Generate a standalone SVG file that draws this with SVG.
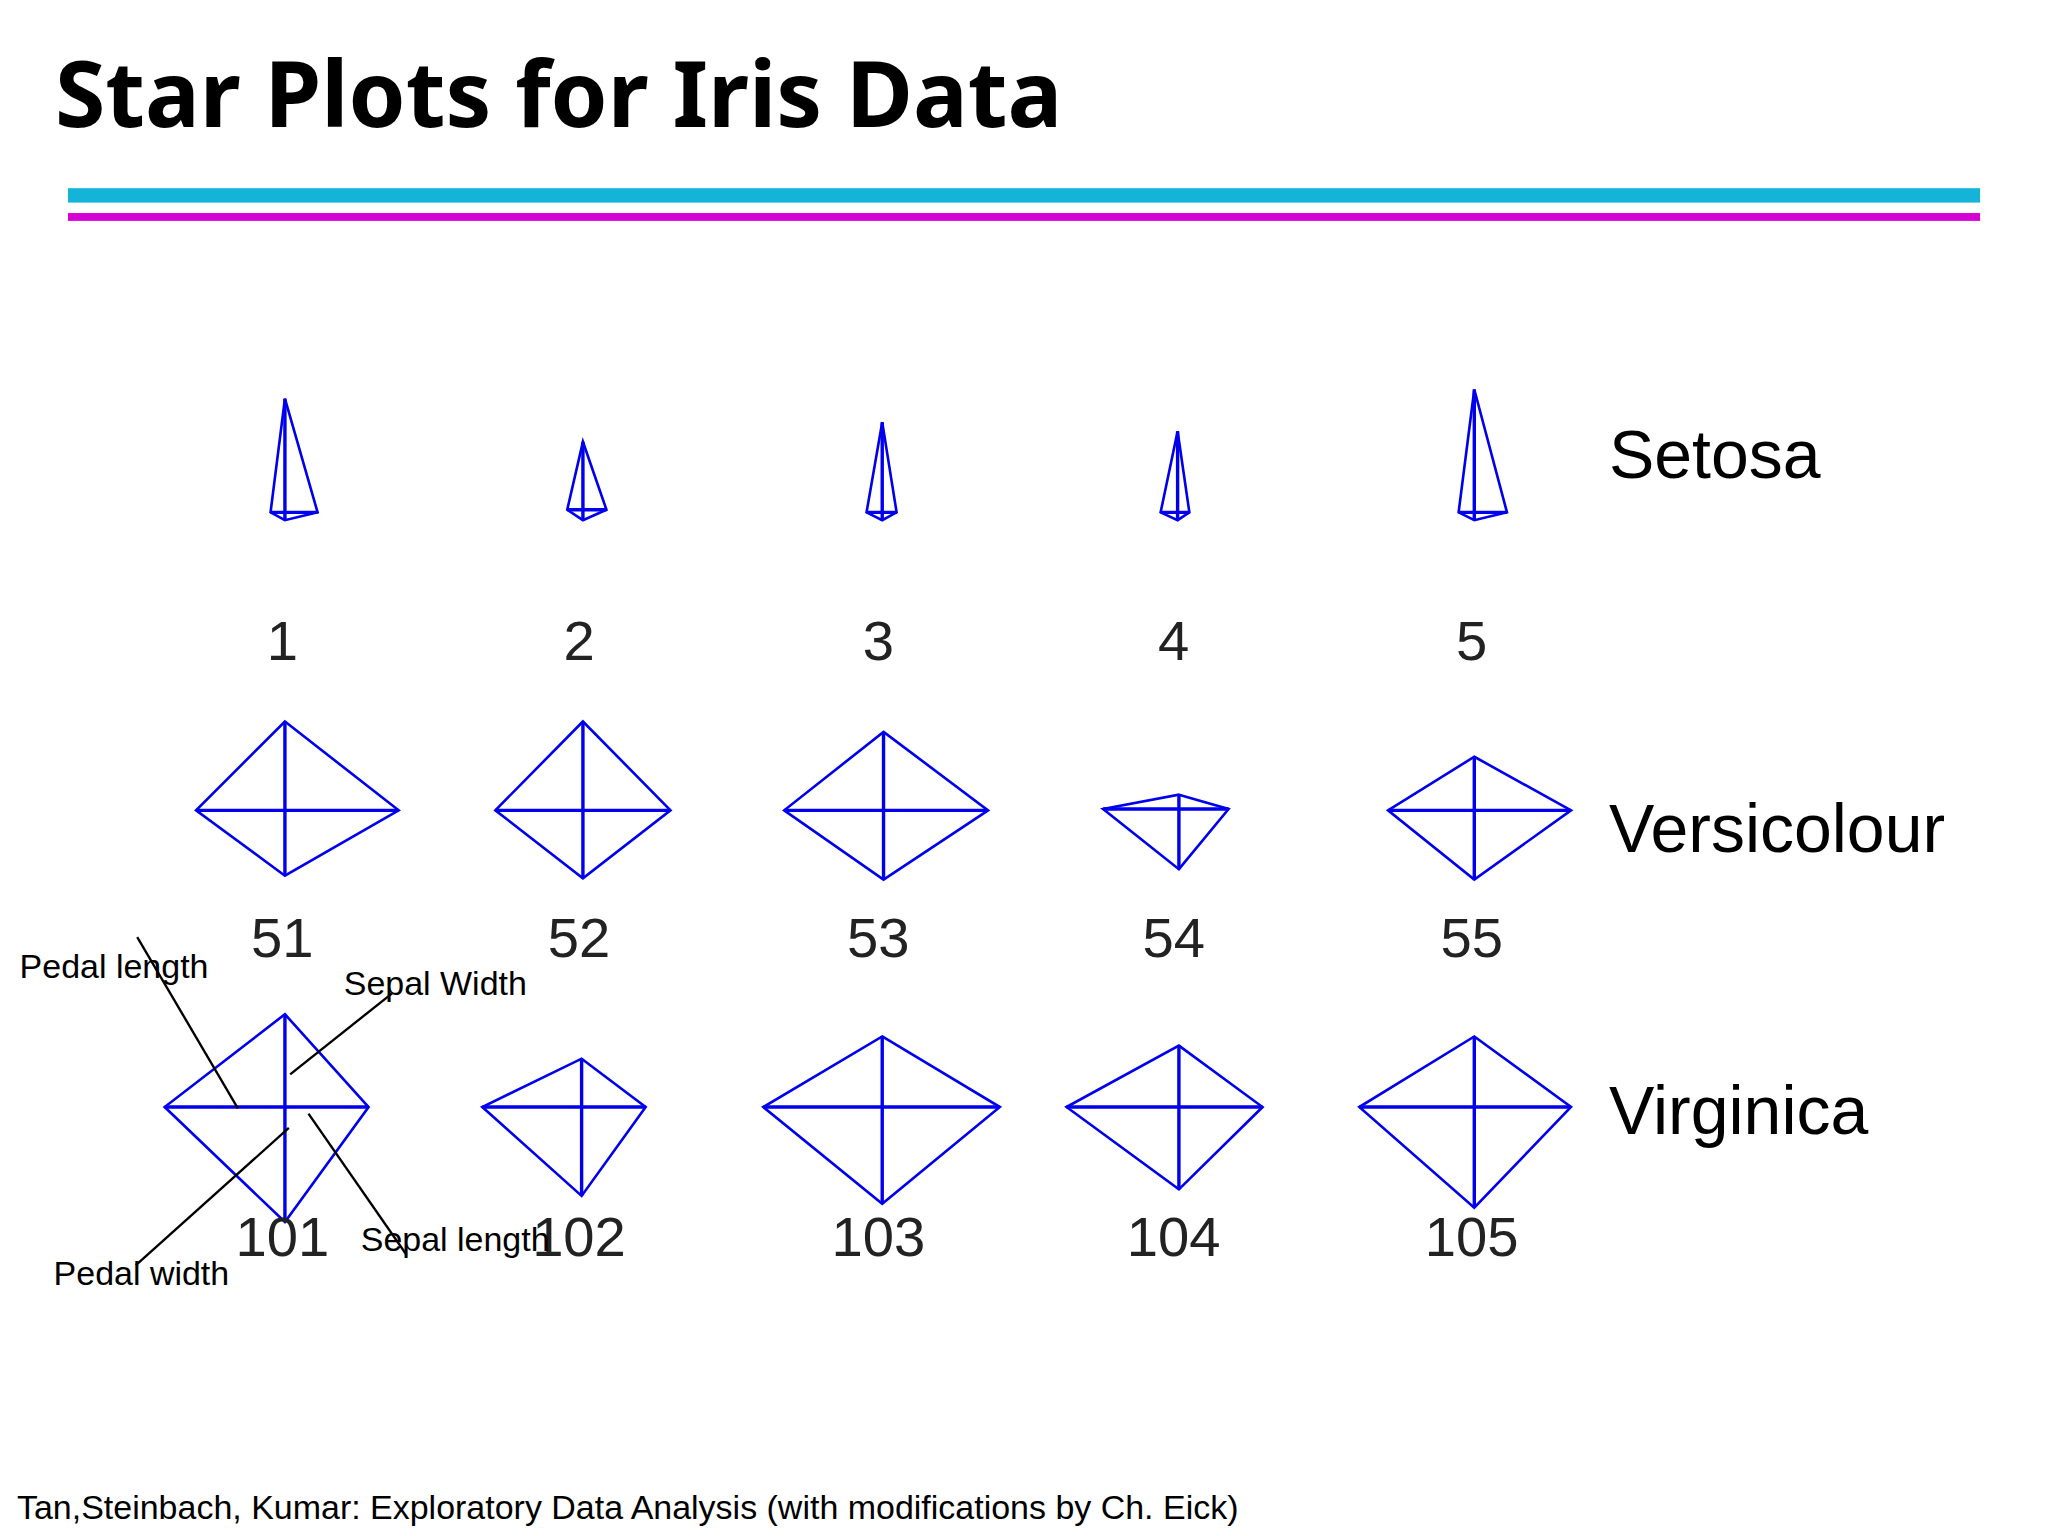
<svg xmlns="http://www.w3.org/2000/svg" width="2048" height="1536" viewBox="0 0 2048 1536">
<style>
.star{fill:none;stroke:#0000ee;stroke-width:2}
.ax{stroke:#0000ee;stroke-width:2.6}
.num{font-family:"Liberation Sans",Arial,sans-serif;font-size:43px;fill:#222;text-anchor:middle}
.cls{font-family:"Liberation Sans",Arial,sans-serif;font-size:52px;fill:#000}
.ann{font-family:"Liberation Sans",Arial,sans-serif;font-size:26px;fill:#000}
.lead{stroke:#000;stroke-width:1.8}
</style>
<rect width="2048" height="1536" fill="#fff"/>
<g transform="scale(1.307)">
<text x="42" y="97" font-family="Noto Sans,Open Sans,sans-serif" font-weight="bold" font-size="70" fill="#000">Star Plots for Iris Data</text>
<rect x="52" y="144" width="1463" height="11" fill="#14b4d8"/>
<rect x="52" y="163" width="1463" height="6" fill="#d400d4"/>
<g id="stars">
<g id="s1"><path class="star" d="M218,305 L243,392 L218,398 L207,392 Z"/><path class="ax" d="M218,305V398M207,392H243"/></g>
<g id="s2"><path class="star" d="M446,338 L464,390 L446,398 L434,390 Z"/><path class="ax" d="M446,338V398M434,390H464"/></g>
<g id="s3"><path class="star" d="M675,323 L686,392 L675,398 L663,392 Z"/><path class="ax" d="M675,323V398M663,392H686"/></g>
<g id="s4"><path class="star" d="M901,330 L910,392 L901,398 L888,392 Z"/><path class="ax" d="M901,330V398M888,392H910"/></g>
<g id="s5"><path class="star" d="M1128,298 L1153,392 L1128,398 L1116,392 Z"/><path class="ax" d="M1128,298V398M1116,392H1153"/></g>
<g id="s51"><path class="star" d="M218,552 L305,620 L218,670 L150,620 Z"/><path class="ax" d="M218,552V670M150,620H305"/></g>
<g id="s52"><path class="star" d="M446,552 L513,620 L446,672 L379,620 Z"/><path class="ax" d="M446,552V672M379,620H513"/></g>
<g id="s53"><path class="star" d="M676,560 L756,620 L676,673 L600,620 Z"/><path class="ax" d="M676,560V673M600,620H756"/></g>
<g id="s54"><path class="star" d="M902,608 L940,619 L902,665 L844,619 Z"/><path class="ax" d="M902,608V665M844,619H940"/></g>
<g id="s55"><path class="star" d="M1128,579 L1202,620 L1128,673 L1062,620 Z"/><path class="ax" d="M1128,579V673M1062,620H1202"/></g>
<g id="s101"><path class="star" d="M218,776 L282,847 L218,935 L126,847 Z"/><path class="ax" d="M218,776V935M126,847H282"/></g>
<g id="s102"><path class="star" d="M445,810 L494,847 L445,915 L369,847 Z"/><path class="ax" d="M445,810V915M369,847H494"/></g>
<g id="s103"><path class="star" d="M675,793 L765,847 L675,921 L584,847 Z"/><path class="ax" d="M675,793V921M584,847H765"/></g>
<g id="s104"><path class="star" d="M902,800 L966,847 L902,910 L816,847 Z"/><path class="ax" d="M902,800V910M816,847H966"/></g>
<g id="s105"><path class="star" d="M1128,793 L1202,847 L1128,924 L1040,847 Z"/><path class="ax" d="M1128,793V924M1040,847H1202"/></g>
</g>
<g id="numbers">
<text class="num" x="216" y="505">1</text><text class="num" x="443" y="505">2</text><text class="num" x="672" y="505">3</text><text class="num" x="898" y="505">4</text><text class="num" x="1126" y="505">5</text>
<text class="num" x="216" y="732">51</text><text class="num" x="443" y="732">52</text><text class="num" x="672" y="732">53</text><text class="num" x="898" y="732">54</text><text class="num" x="1126" y="732">55</text>
<text class="num" x="216" y="961">101</text><text class="num" x="443" y="961">102</text><text class="num" x="672" y="961">103</text><text class="num" x="898" y="961">104</text><text class="num" x="1126" y="961">105</text>
</g>
<g id="classes">
<text class="cls" x="1231" y="366">Setosa</text>
<text class="cls" x="1231" y="652">Versicolour</text>
<text class="cls" x="1231" y="868">Virginica</text>
</g>
<g id="connectors">
<line class="lead" x1="105" y1="717" x2="182" y2="848"/>
<line class="lead" x1="300" y1="760" x2="222" y2="822"/>
<line class="lead" x1="104" y1="968" x2="221" y2="863"/>
<line class="lead" x1="236" y1="852" x2="311" y2="960"/>
</g>
<g id="annotations">
<text class="ann" x="15" y="748">Pedal length</text>
<text class="ann" x="263" y="761">Sepal Width</text>
<text class="ann" x="276" y="957">Sepal length</text>
<text class="ann" x="41" y="983">Pedal width</text>
</g>
<text x="13" y="1162" font-family="Liberation Sans,Arial,sans-serif" font-size="26" fill="#000">Tan,Steinbach, Kumar: Exploratory Data Analysis (with modifications by Ch. Eick)</text>
</g>
</svg>
